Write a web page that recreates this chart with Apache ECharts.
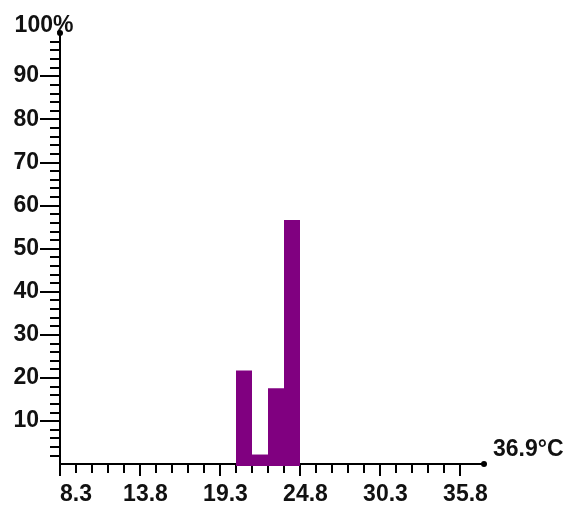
<!DOCTYPE html>
<html>
<head>
<meta charset="utf-8">
<script src="https://cdn.jsdelivr.net/npm/echarts@6/dist/echarts.min.js"></script>
<style>
html,body{margin:0;padding:0;background:#fff;}
#chart{width:568px;height:506px;}
</style>
</head>
<body>
<div id="chart"></div>
<script>
// Histogram bins (°C) and share (%)
var binStarts = [20.4, 21.5, 22.6, 23.7];
var binEnds   = [21.5, 22.6, 23.7, 24.8];
var shares    = [21.7, 2.2, 17.6, 56.6];

// Tick positions / labels
var xMajorTicks = [8.3, 13.8, 19.3, 24.8, 30.3, 35.8];
var xMinorTicks = [9.4, 10.5, 11.6, 12.7, 14.9, 16.0, 17.1, 18.2, 20.4, 21.5, 22.6, 23.7,
                   25.9, 27.0, 28.1, 29.2, 31.4, 32.5, 33.6, 34.7];
var yMajorTicks = [10, 20, 30, 40, 50, 60, 70, 80, 90];
var yMinorTicks = [2, 4, 6, 8, 12, 14, 16, 18, 22, 24, 26, 28, 32, 34, 36, 38, 42, 44, 46, 48,
                   52, 54, 56, 58, 62, 64, 66, 68, 72, 74, 76, 78, 82, 84, 86, 88, 92, 94, 96, 98];
var xAxisName = '36.9°C';
var yAxisName = '100%';

var FONT = 'Liberation Sans, Arial, sans-serif';
var TXT = '#111111';
var xMin = 8.3, xMax = 37.45;

var data = binStarts.map(function (s, i) { return [s, binEnds[i], shares[i]]; });

var chart = echarts.init(document.getElementById('chart'));
chart.setOption({
  animation: false,
  backgroundColor: '#ffffff',
  grid: { left: 60, right: 84, top: 33, bottom: 42 },
  xAxis: [
    {
      type: 'value', position: 'bottom', min: xMin, max: xMax,
      name: xAxisName, nameLocation: 'end', nameGap: 9,
      nameTextStyle: { fontFamily: FONT, fontSize: 23, fontWeight: 'bold', color: TXT,
                       verticalAlign: 'bottom', align: 'left', padding: [0, 0, 3, 0] },
      axisLine: { show: true, onZero: false, symbol: ['none', 'circle'], symbolSize: [6, 6],
                  lineStyle: { color: '#000', width: 2 } },
      axisTick: { show: true, inside: false, length: 9, customValues: xMinorTicks,
                  lineStyle: { color: '#000', width: 2 } },
      axisLabel: { show: false },
      splitLine: { show: false }
    },
    {
      type: 'value', position: 'bottom', min: xMin, max: xMax,
      axisLine: { show: false, onZero: false },
      axisTick: { show: true, inside: false, length: 12, customValues: xMajorTicks,
                  lineStyle: { color: '#000', width: 2 } },
      axisLabel: {
        show: true, customValues: xMajorTicks, margin: 19,
        alignMinLabel: 'left',
        formatter: function (v) {
          var s = Number(v).toFixed(1);
          return Math.abs(v - xMajorTicks[0]) < 1e-6 ? '{a|' + s + '}' : '{b|' + s + '}';
        },
        rich: {
          a: { fontFamily: FONT, fontSize: 23, fontWeight: 'bold', color: TXT },
          b: { fontFamily: FONT, fontSize: 23, fontWeight: 'bold', color: TXT, padding: [0, 0, 0, 11] }
        }
      },
      splitLine: { show: false }
    }
  ],
  yAxis: [
    {
      type: 'value', position: 'left', min: 0, max: 100,
      name: yAxisName, nameLocation: 'end', nameGap: 7,
      nameTextStyle: { fontFamily: FONT, fontSize: 23, fontWeight: 'bold', color: TXT,
                       align: 'center', verticalAlign: 'middle', padding: [0, 32, 0, 0] },
      axisLine: { show: true, onZero: false, symbol: ['none', 'circle'], symbolSize: [6, 6],
                  lineStyle: { color: '#000', width: 2 } },
      axisTick: { show: true, inside: false, length: 10, customValues: yMinorTicks,
                  lineStyle: { color: '#000', width: 2 } },
      axisLabel: { show: false },
      splitLine: { show: false }
    },
    {
      type: 'value', position: 'left', min: 0, max: 100,
      axisLine: { show: false, onZero: false },
      axisTick: { show: true, inside: false, length: 20, customValues: yMajorTicks,
                  lineStyle: { color: '#000', width: 2 } },
      axisLabel: {
        show: true, customValues: yMajorTicks, margin: 21,
        fontFamily: FONT, fontSize: 23, fontWeight: 'bold', color: TXT,
        padding: [11, 0, 0, 0]
      },
      splitLine: { show: false }
    }
  ],
  series: [{
    type: 'custom',
    xAxisIndex: 0, yAxisIndex: 0,
    z: 10,
    data: data,
    encode: { x: [0, 1], y: 2 },
    renderItem: function (params, api) {
      var top = api.coord([api.value(0), api.value(2)]);
      var bot = api.coord([api.value(1), 0]);
      return {
        type: 'rect',
        shape: { x: top[0], y: top[1], width: bot[0] - top[0], height: bot[1] - top[1] + 2 },
        style: { fill: '#800080' }
      };
    }
  }]
});
</script>
</body>
</html>
